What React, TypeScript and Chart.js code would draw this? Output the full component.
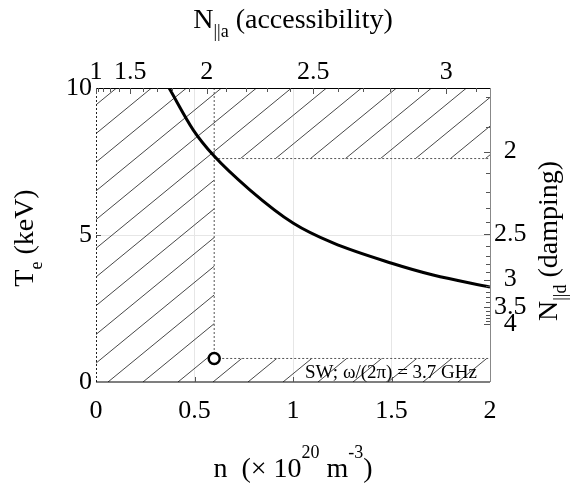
import React, { useEffect, useRef } from 'react';
import { Chart, registerables } from 'chart.js';
Chart.register(...registerables);

// ---- data ----
const curveN = [0.371, 0.494, 0.595, 0.782, 1.002, 1.203, 1.501, 1.711, 2.0];
const curveTe = [10.0, 8.57, 7.72, 6.53, 5.4, 4.73, 4.04, 3.64, 3.23];
const markerN = [0.6];
const markerTe = [0.8];
const xTickValues = [0, 0.5, 1, 1.5, 2];
const yTickValues = [0, 5, 10];
const topTickLabels = ['1', '1.5', '2', '2.5', '3'];
const topTickNacc = [1, 1.5, 2, 2.5, 3];
const topMinorNacc = [1.1, 1.2, 1.3, 1.4, 1.6, 1.7, 1.8, 1.9, 2.1, 2.2, 2.3, 2.4, 2.6, 2.7, 2.8, 2.9, 3.1];
const rightTickLabels = ['2', '2.5', '3', '3.5', '4'];
const rightTickNd = [2, 2.5, 3, 3.5, 4];
const rightMinorNd = [1.8, 1.9, 2.1, 2.2, 2.3, 2.4, 2.6, 2.7, 2.8, 2.9, 3.1, 3.2, 3.3, 3.4, 3.6, 3.7, 3.8, 3.9];
const accessLimitN = 0.6;
const dampTeHigh = 7.6;
const dampTeLow = 0.8;
const annotation = 'SW; ω/(2π) = 3.7 GHz';

// axis relations of the secondary axes
const nFromNacc = (N: number) => Math.pow((N * N - 1) / (2 * N), 2);
const teFromNd = (N: number) => Math.pow(5.6 / N, 2);

const SERIF = '"Liberation Serif", "Times New Roman", serif';

type Part = { t: string; size: number; dy?: number; w?: number };
function drawRich(ctx: CanvasRenderingContext2D, parts: Part[], x: number, y: number, rotate: boolean) {
  ctx.save();
  ctx.translate(x, y);
  if (rotate) ctx.rotate(-Math.PI / 2);
  let total = 0;
  parts.forEach((p) => {
    ctx.font = `${p.size}px ${SERIF}`;
    p.w = ctx.measureText(p.t).width;
    total += p.w;
  });
  let cx = -total / 2;
  ctx.textAlign = 'left';
  ctx.textBaseline = 'alphabetic';
  ctx.fillStyle = '#000';
  parts.forEach((p) => {
    ctx.font = `${p.size}px ${SERIF}`;
    ctx.fillText(p.t, cx, p.dy || 0);
    cx += p.w || 0;
  });
  ctx.restore();
}

const decor = {
  id: 'decor',
  beforeDatasetsDraw(chart: any) {
    const { ctx, chartArea: a, scales } = chart;
    const x = scales.x;
    const y = scales.y;
    const regions = [
      [0, accessLimitN, 0, 10],
      [accessLimitN, 2, dampTeHigh, 10],
      [accessLimitN, 2, 0, dampTeLow],
    ];
    // hatching
    ctx.save();
    ctx.beginPath();
    regions.forEach(([n0, n1, t0, t1]) => {
      const px0 = x.getPixelForValue(n0);
      const px1 = x.getPixelForValue(n1);
      const py0 = y.getPixelForValue(t1);
      const py1 = y.getPixelForValue(t0);
      ctx.rect(px0, py0, px1 - px0, py1 - py0);
    });
    ctx.clip();
    ctx.strokeStyle = '#333';
    ctx.lineWidth = 0.9;
    ctx.beginPath();
    const slope = 0.82;
    for (let k = -30; k <= 30; k++) {
      const x0 = a.left + 12 + k * 35;
      ctx.moveTo(x0, a.bottom);
      ctx.lineTo(x0 + 800, a.bottom - 800 * slope);
    }
    ctx.stroke();
    ctx.restore();

    // dotted boundaries
    ctx.save();
    ctx.strokeStyle = '#555';
    ctx.lineWidth = 1;
    ctx.setLineDash([2, 2]);
    ctx.beginPath();
    const xl = x.getPixelForValue(accessLimitN);
    ctx.moveTo(xl, y.getPixelForValue(10));
    ctx.lineTo(xl, y.getPixelForValue(dampTeLow));
    ctx.moveTo(xl, y.getPixelForValue(dampTeHigh));
    ctx.lineTo(x.getPixelForValue(2), y.getPixelForValue(dampTeHigh));
    ctx.moveTo(xl, y.getPixelForValue(dampTeLow));
    ctx.lineTo(x.getPixelForValue(2), y.getPixelForValue(dampTeLow));
    ctx.stroke();
    ctx.strokeStyle = '#222';
    ctx.beginPath();
    ctx.moveTo(a.left + 0.5, a.top);
    ctx.lineTo(a.left + 0.5, a.bottom);
    ctx.stroke();
    ctx.restore();

    // annotation
    ctx.save();
    ctx.font = `19px ${SERIF}`;
    ctx.fillStyle = '#000';
    ctx.textAlign = 'right';
    ctx.textBaseline = 'alphabetic';
    ctx.fillText(annotation, a.right - 13, a.bottom - 4);
    ctx.restore();
  },
  afterDatasetsDraw(chart: any) {
    const { ctx, chartArea: a, scales } = chart;
    const x = scales.x;
    const y = scales.y;
    ctx.save();
    // borders
    ctx.strokeStyle = '#000';
    ctx.lineWidth = 1.2;
    ctx.beginPath();
    ctx.moveTo(a.left, a.top + 0.5);
    ctx.lineTo(a.right, a.top + 0.5);
    ctx.moveTo(a.left, a.bottom);
    ctx.lineTo(a.right, a.bottom);
    ctx.stroke();
    ctx.strokeStyle = '#888';
    ctx.lineWidth = 1;
    ctx.beginPath();
    ctx.moveTo(a.right + 0.5, a.top);
    ctx.lineTo(a.right + 0.5, a.bottom);
    ctx.stroke();
    // inward ticks
    ctx.strokeStyle = '#555';
    ctx.lineWidth = 1;
    ctx.beginPath();
    xTickValues.slice(1, -1).forEach((v) => {
      const px = Math.round(x.getPixelForValue(v)) + 0.5;
      ctx.moveTo(px, a.bottom);
      ctx.lineTo(px, a.bottom - 5);
    });
    yTickValues.slice(1, -1).forEach((v) => {
      const py = Math.round(y.getPixelForValue(v)) + 0.5;
      ctx.moveTo(a.left, py);
      ctx.lineTo(a.left + 5, py);
    });
    topTickNacc.forEach((N) => {
      const px = Math.round(x.getPixelForValue(nFromNacc(N))) + 0.5;
      ctx.moveTo(px, a.top);
      ctx.lineTo(px, a.top + 6);
    });
    topMinorNacc.forEach((N) => {
      const n = nFromNacc(N);
      if (n > 2) return;
      const px = Math.round(x.getPixelForValue(n)) + 0.5;
      ctx.moveTo(px, a.top);
      ctx.lineTo(px, a.top + 4);
    });
    rightTickNd.forEach((N) => {
      const py = Math.round(y.getPixelForValue(teFromNd(N))) + 0.5;
      ctx.moveTo(a.right, py);
      ctx.lineTo(a.right - 6, py);
    });
    rightMinorNd.forEach((N) => {
      const t = teFromNd(N);
      if (t > 10) return;
      const py = Math.round(y.getPixelForValue(t)) + 0.5;
      ctx.moveTo(a.right, py);
      ctx.lineTo(a.right - 4, py);
    });
    ctx.stroke();
    ctx.restore();
  },
  afterDraw(chart: any) {
    const { ctx, chartArea: a } = chart;
    const cx = (a.left + a.right) / 2;
    drawRich(ctx, [
      { t: 'N', size: 28 },
      { t: '||a', size: 18, dy: 9 },
      { t: ' (accessibility)', size: 28 },
    ], cx, 28, false);
    drawRich(ctx, [
      { t: 'n  (× 10', size: 28 },
      { t: '20', size: 18, dy: -19 },
      { t: ' m', size: 28 },
      { t: '-3', size: 18, dy: -19 },
      { t: ')', size: 28 },
    ], cx, 477, false);
    drawRich(ctx, [
      { t: 'T', size: 28 },
      { t: 'e', size: 18, dy: 9 },
      { t: ' (keV)', size: 28 },
    ], 33, 238, true);
    drawRich(ctx, [
      { t: 'N', size: 28 },
      { t: '||d', size: 18, dy: 9 },
      { t: ' (damping)', size: 28 },
    ], 557, 241, true);
  },
};

export default function App() {
  const ref = useRef<HTMLCanvasElement>(null);
  useEffect(() => {
    if (!ref.current) return;
    const tickFont = { family: SERIF, size: 26 };
    const chart = new Chart(ref.current, {
      type: 'scatter',
      data: {
        datasets: [
          {
            label: 'curve',
            data: curveN.map((n, i) => ({ x: n, y: curveTe[i] })),
            showLine: true,
            borderColor: '#000',
            borderWidth: 3,
            pointRadius: 0,
            cubicInterpolationMode: 'monotone',
            xAxisID: 'x',
            yAxisID: 'y',
          } as any,
          {
            label: 'operating point',
            data: markerN.map((n, i) => ({ x: n, y: markerTe[i] })),
            showLine: false,
            pointRadius: 5.5,
            pointBorderWidth: 2.5,
            pointBackgroundColor: '#fff',
            pointBorderColor: '#000',
            xAxisID: 'x',
            yAxisID: 'y',
          } as any,
        ],
      },
      plugins: [decor],
      options: {
        animation: false,
        responsive: false,
        devicePixelRatio: 1,
        layout: { padding: 0 },
        plugins: { legend: { display: false }, tooltip: { enabled: false } },
        scales: {
          x: {
            type: 'linear',
            position: 'bottom',
            min: 0,
            max: 2,
            afterFit: (s: any) => { s.height = 104; },
            afterBuildTicks: (s: any) => { s.ticks = xTickValues.map((v) => ({ value: v })); },
            border: { display: false },
            grid: {
              drawTicks: false,
              color: (c: any) => (c.tick && c.tick.value > 0 && c.tick.value < 2 ? '#e6e6e6' : 'rgba(0,0,0,0)'),
            },
            ticks: { font: tickFont, color: '#000', padding: 14, autoSkip: false, maxRotation: 0, callback: (v: any) => String(v) },
          },
          xTop: {
            type: 'linear',
            position: 'top',
            min: 0,
            max: 2,
            afterFit: (s: any) => { s.height = 88; },
            afterBuildTicks: (s: any) => { s.ticks = topTickNacc.map((N) => ({ value: nFromNacc(N) })); },
            border: { display: false },
            grid: { display: false, drawTicks: false },
            ticks: { font: tickFont, color: '#000', padding: 0, autoSkip: false, maxRotation: 0, callback: (_v: any, i: number) => topTickLabels[i] },
          },
          y: {
            type: 'linear',
            position: 'left',
            min: 0,
            max: 10,
            afterFit: (s: any) => { s.width = 96; },
            afterBuildTicks: (s: any) => { s.ticks = yTickValues.map((v) => ({ value: v })); },
            border: { display: false },
            grid: {
              drawTicks: false,
              color: (c: any) => (c.tick && c.tick.value > 0 && c.tick.value < 10 ? '#e6e6e6' : 'rgba(0,0,0,0)'),
            },
            ticks: { font: tickFont, color: '#000', padding: 4, autoSkip: false, callback: (v: any) => String(v) },
          },
          yRight: {
            type: 'linear',
            position: 'right',
            min: 0,
            max: 10,
            afterFit: (s: any) => { s.width = 88; },
            afterBuildTicks: (s: any) => { s.ticks = rightTickNd.map((N) => ({ value: teFromNd(N) })); },
            border: { display: false },
            grid: { display: false, drawTicks: false },
            ticks: { font: tickFont, color: '#000', padding: 4, crossAlign: 'center', autoSkip: false, callback: (_v: any, i: number) => rightTickLabels[i] },
          },
        },
      } as any,
    });
    return () => chart.destroy();
  }, []);
  return (
    <div style={{ position: 'absolute', left: 0, top: 0, width: 578, height: 486, background: '#fff' }}>
      <canvas ref={ref} width={578} height={486} style={{ width: 578, height: 486, display: 'block' }} />
    </div>
  );
}
